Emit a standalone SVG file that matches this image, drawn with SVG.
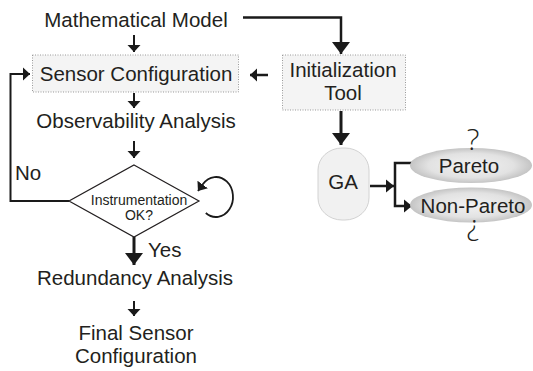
<svg xmlns="http://www.w3.org/2000/svg" width="533" height="371" viewBox="0 0 533 371">
<style>
text{font-family:"Liberation Sans",Arial,sans-serif;fill:#231f20}
.t{font-size:20.5px;text-anchor:middle}
.s{font-size:14px;text-anchor:middle}
.box{fill:#f4f4f4;stroke:#9a9a9a;stroke-width:1;stroke-dasharray:1 1.5}
.ln{fill:none;stroke:#1a1a1a;stroke-linejoin:miter}
.q{font-family:"Open Sans","DejaVu Sans",sans-serif;font-weight:300;font-size:30px;text-anchor:middle;fill:#231f20}
</style>
<defs>
<marker id="sm" markerUnits="userSpaceOnUse" viewBox="0 -7 8 14" refX="7" refY="0" markerWidth="8" markerHeight="14" orient="auto">
<path d="M0,-6.5 L7,0 L0,6.5 z" fill="#1a1a1a"/>
</marker>
<marker id="md" markerUnits="userSpaceOnUse" viewBox="0 -7 9 14" refX="8" refY="0" markerWidth="9" markerHeight="14" orient="auto">
<path d="M0,-6.5 L8,0 L0,6.5 z" fill="#1a1a1a"/>
</marker>
<marker id="bg" markerUnits="userSpaceOnUse" viewBox="0 -10 13 20" refX="12" refY="0" markerWidth="13" markerHeight="20" orient="auto">
<path d="M0,-9 L12,0 L0,9 z" fill="#1a1a1a"/>
</marker>
<radialGradient id="eg" cx="0.5" cy="0.5" r="0.5">
<stop offset="0" stop-color="#f2f2f2"/>
<stop offset="0.7" stop-color="#e2e2e2"/>
<stop offset="1" stop-color="#c4c4c4"/>
</radialGradient>
</defs>

<g id="connectors">
<path class="ln" stroke-width="2" d="M134,35 V52" marker-end="url(#sm)"/>
<path class="ln" stroke-width="2" d="M134,93 V108" marker-end="url(#sm)"/>
<path class="ln" stroke-width="2" d="M134,141 V158" marker-end="url(#sm)"/>
<path class="ln" stroke-width="3" d="M134,237 V265" marker-end="url(#bg)"/>
<path class="ln" stroke-width="2" d="M134,301 V316" marker-end="url(#sm)"/>
<path class="ln" stroke-width="2" d="M69,201 H10.5 V74 H30" marker-end="url(#sm)"/>
<path class="ln" stroke-width="2.5" d="M243,17.5 H341 V54" marker-end="url(#bg)"/>
<path class="ln" stroke-width="2.5" d="M268,75 H250" marker-end="url(#sm)"/>
<path class="ln" stroke-width="3" d="M341,111 V145" marker-end="url(#bg)"/>
<path class="ln" stroke-width="2.5" d="M370,186 H394" marker-end="url(#md)"/>
<path class="ln" stroke-width="2.5" d="M412,163 H395 V206 H412" marker-start="url(#md)" marker-end="url(#md)"/>
<path class="ln" stroke-width="1.8" d="M205.8,213 A17 20 0 1 0 203,184.1 L198,191" marker-end="url(#md)"/>
</g>

<g id="mathematical-model"><text class="t" x="136" y="27">Mathematical Model</text></g>
<g id="sensor-configuration">
<rect class="box" x="32.5" y="55" width="206" height="37"/>
<text class="t" x="136" y="81">Sensor Configuration</text>
</g>
<g id="observability-analysis"><text class="t" x="136" y="128">Observability Analysis</text></g>
<g id="instrumentation-ok">
<polygon points="134,165 199,201 134,237 69,201" fill="#ffffff" stroke="#231f20" stroke-width="1.2"/>
<text class="s" x="139" y="205">Instrumentation</text>
<text class="s" x="139" y="220">OK?</text>
</g>
<g id="label-no"><text class="t" x="15" y="180" style="text-anchor:start">No</text></g>
<g id="label-yes"><text class="t" x="148" y="257" style="text-anchor:start">Yes</text></g>
<g id="redundancy-analysis"><text class="t" x="135" y="285">Redundancy Analysis</text></g>
<g id="final-sensor-configuration">
<text class="t" x="136" y="340">Final Sensor</text>
<text class="t" x="136" y="363">Configuration</text>
</g>
<g id="initialization-tool">
<rect class="box" x="282.5" y="55" width="123" height="55"/>
<text class="t" x="343" y="77">Initialization</text>
<text class="t" x="343" y="100">Tool</text>
</g>
<g id="ga">
<rect x="318" y="148" width="51" height="72" rx="24" ry="22" fill="#f1f1f1" stroke="#d2d2d2" stroke-width="1"/>
<text class="t" x="343" y="189">GA</text>
</g>
<g id="pareto">
<ellipse cx="471" cy="165.5" rx="61" ry="17.5" fill="url(#eg)"/>
<text class="t" x="469" y="173">Pareto</text>
<text class="q" x="473" y="150">?</text>
</g>
<g id="non-pareto">
<ellipse cx="471" cy="205" rx="61" ry="17.5" fill="url(#eg)"/>
<text class="t" x="473" y="213">Non-Pareto</text>
<text class="q" x="473" y="150" transform="rotate(180 473 185)">?</text>
</g>
</svg>
